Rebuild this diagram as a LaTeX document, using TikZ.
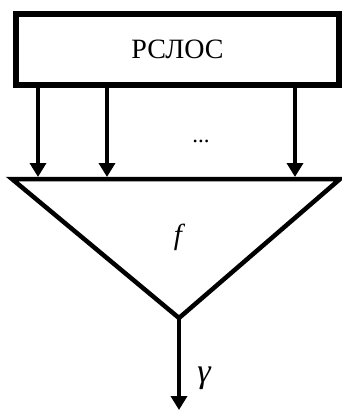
\documentclass[tikz,border=0pt]{standalone}
\usepackage{fontspec}
\setmainfont{Liberation Serif}
\usetikzlibrary{arrows.meta}
\begin{document}
\begin{tikzpicture}[x=1pt,y=-1pt,
  blockbox/.style={draw, line width=6.5pt, minimum width=323pt, minimum height=71pt, inner sep=0pt, font=\fontsize{28}{30}\selectfont},
  sig/.style={line width=3.5pt, -{Triangle[width=16pt,length=14pt]}},
  tri/.style={draw, line width=4.5pt, line join=miter},
  lbl/.style={inner sep=0pt}]
\useasboundingbox (0,0) rectangle (342,410);
\node[blockbox] (box) at (177.5,49.5) {РСЛОС};
\coordinate (L) at (12,179);
\coordinate (R) at (340,179);
\coordinate (A) at (179,318);
\draw[tri] (L) -- (R) -- (A) -- cycle;
\coordinate (t1) at (38,177);
\coordinate (t2) at (107,177);
\coordinate (t3) at (295,177);
\draw[sig] (box.south -| t1) -- (t1);
\draw[sig] (box.south -| t2) -- (t2);
\draw[sig] (box.south -| t3) -- (t3);
\node[lbl, font=\fontsize{23}{25}\selectfont] (dots) at (201,141) {...};
\node[lbl, font=\fontsize{29}{31}\selectfont] (f) at (178,237) {\itshape f};
\coordinate (out) at (179,410);
\draw[sig] (A) -- (out);
\node[lbl, font=\fontsize{34}{36}\selectfont] (g) at (204,378) {\itshape γ};
\end{tikzpicture}
\end{document}
